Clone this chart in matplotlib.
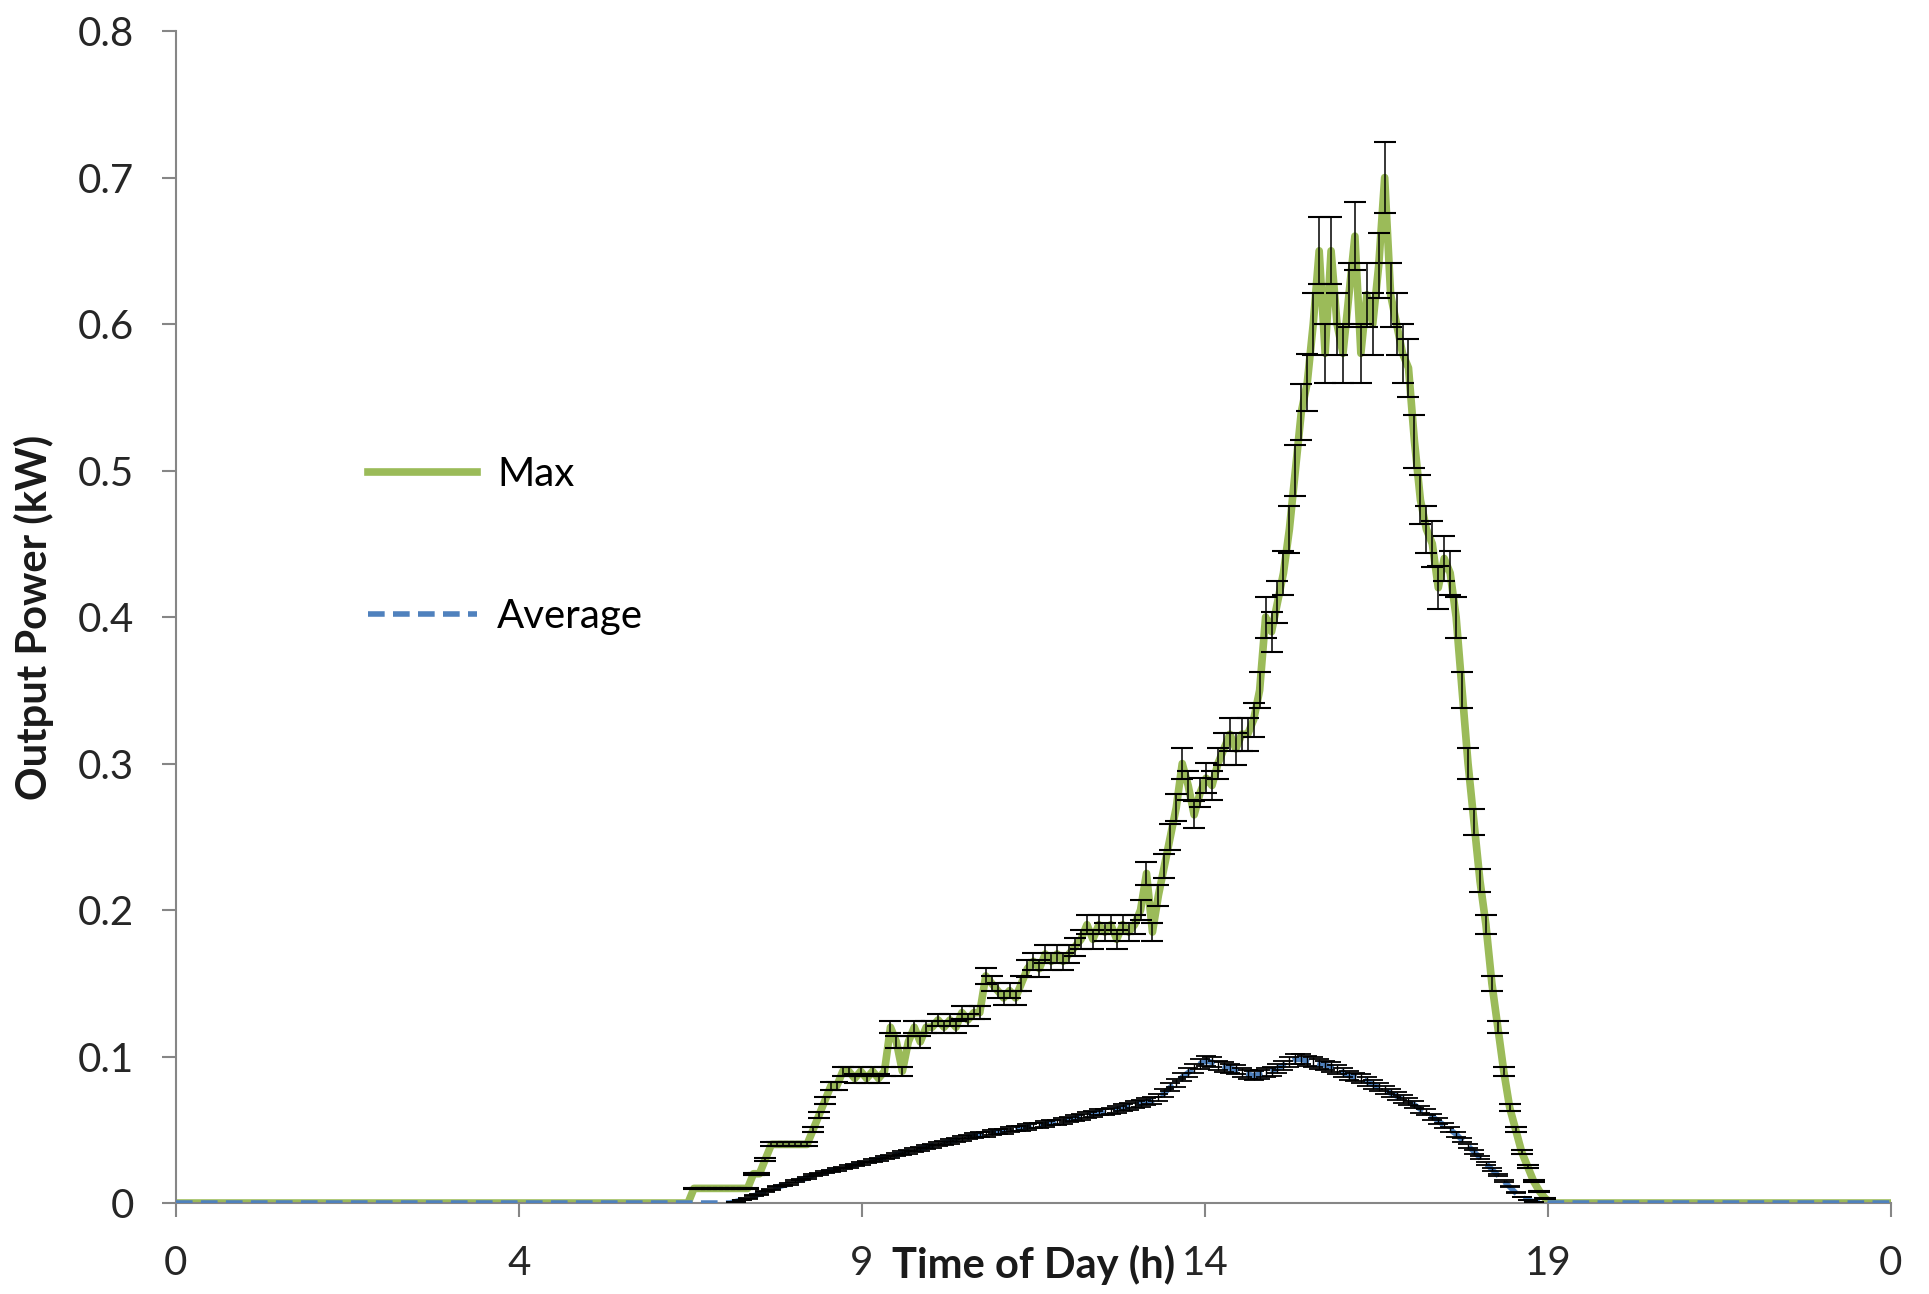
import numpy as np
import matplotlib.pyplot as plt
from matplotlib.ticker import FuncFormatter

plt.rcParams['font.family'] = ['Lato', 'DejaVu Sans']

# 5-minute samples over one day (0 h .. 24 h)
hours = np.arange(289) / 12

# max output power (kW), 07:00 .. 19:55, zero elsewhere
max_kw = ([0] * 84 +
          [0, 0, 0, 0.01, 0.01, 0.01, 0.01, 0.01, 0.01, 0.01, 0.01, 0.01] +
          [0.01, 0.02, 0.02, 0.03, 0.04, 0.04, 0.04, 0.04, 0.04, 0.04, 0.04, 0.05] +
          [0.06, 0.07, 0.08, 0.08, 0.09, 0.09, 0.085, 0.09, 0.085, 0.09, 0.085, 0.09] +
          [0.12, 0.11, 0.09, 0.11, 0.12, 0.11, 0.12, 0.12, 0.125, 0.12, 0.125, 0.12] +
          [0.13, 0.125, 0.13, 0.13, 0.155, 0.15, 0.145, 0.14, 0.145, 0.14, 0.15, 0.16] +
          [0.165, 0.16, 0.17, 0.165, 0.17, 0.165, 0.17, 0.175, 0.18, 0.19, 0.18, 0.19] +
          [0.185, 0.19, 0.18, 0.19, 0.185, 0.19, 0.20, 0.225, 0.185, 0.21, 0.23, 0.25] +
          [0.27, 0.30, 0.285, 0.265, 0.28, 0.29, 0.285, 0.30, 0.31, 0.32, 0.31, 0.32] +
          [0.32, 0.33, 0.35, 0.40, 0.39, 0.41, 0.43, 0.46, 0.50, 0.54, 0.56, 0.60] +
          [0.65, 0.58, 0.65, 0.60, 0.58, 0.62, 0.66, 0.58, 0.62, 0.60, 0.64, 0.70] +
          [0.62, 0.60, 0.58, 0.57, 0.52, 0.48, 0.46, 0.45, 0.42, 0.44, 0.43, 0.40] +
          [0.35, 0.30, 0.26, 0.22, 0.19, 0.15, 0.12, 0.09, 0.065, 0.05, 0.035, 0.025] +
          [0.015, 0.008, 0.003, 0, 0, 0, 0, 0, 0, 0, 0, 0] +
          [0] * 49)

# average output power (kW)
avg_kw = ([0] * 84 +
          [0, 0, 0, 0, 0, 0, 0, 0, 0, 0, 0.001, 0.002] +
          [0.003, 0.005, 0.006, 0.008, 0.009, 0.011, 0.012, 0.013, 0.015, 0.016, 0.017, 0.019] +
          [0.020, 0.021, 0.022, 0.023, 0.024, 0.025, 0.026, 0.027, 0.028, 0.029, 0.030, 0.031] +
          [0.032, 0.033, 0.034, 0.035, 0.036, 0.037, 0.038, 0.039, 0.040, 0.041, 0.042, 0.043] +
          [0.044, 0.045, 0.046, 0.047, 0.047, 0.048, 0.049, 0.049, 0.050, 0.051, 0.051, 0.052] +
          [0.053, 0.053, 0.054, 0.055, 0.055, 0.056, 0.057, 0.058, 0.059, 0.060, 0.061, 0.062] +
          [0.062, 0.063, 0.064, 0.065, 0.066, 0.067, 0.068, 0.069, 0.070, 0.072, 0.075, 0.079] +
          [0.082, 0.086, 0.089, 0.092, 0.095, 0.097, 0.096, 0.094, 0.093, 0.092, 0.091, 0.089] +
          [0.088, 0.087, 0.088, 0.089, 0.090, 0.092, 0.094, 0.096, 0.098, 0.098, 0.097, 0.096] +
          [0.095, 0.094, 0.093, 0.091, 0.089, 0.087, 0.086, 0.085, 0.083, 0.081, 0.079, 0.077] +
          [0.075, 0.073, 0.071, 0.069, 0.067, 0.064, 0.062, 0.059, 0.056, 0.053, 0.050, 0.047] +
          [0.043, 0.039, 0.035, 0.031, 0.027, 0.023, 0.019, 0.015, 0.011, 0.007, 0.004, 0.002] +
          [0.001, 0, 0, 0, 0, 0, 0, 0, 0, 0, 0, 0] +
          [0] * 49)

# error bars are roughly 3.5 % of the value
err_frac = 0.035

tick_pos = [0, 4.8, 9.6, 14.4, 19.2, 24]
tick_lab = ["0", "4", "9", "14", "19", "0"]

max_kw = np.array(max_kw)
avg_kw = np.array(avg_kw)

fig = plt.figure(figsize=(19.29, 12.94), dpi=100)
ax = fig.add_axes([0.0912, 0.0703, 0.889, 0.9057])

green = '#9BBB59'
blue = '#4F81BD'

ln_max, = ax.plot(hours, max_kw, color=green, lw=5.5, label='Max', zorder=2)
m = max_kw > 0
ax.errorbar(hours[m], max_kw[m], yerr=max_kw[m] * err_frac, fmt='none',
            ecolor='black', elinewidth=1.1, capsize=8, capthick=1.5, zorder=3)

ln_avg, = ax.plot(hours, avg_kw, color=blue, lw=4, dashes=(3, 1.5), label='Average', zorder=4)
m = avg_kw > 0
ax.errorbar(hours[m], avg_kw[m], yerr=avg_kw[m] * err_frac, fmt='none',
            ecolor='black', elinewidth=1.0, capsize=7, capthick=1.3, zorder=5)

ax.set_xlim(0, 24)
ax.set_ylim(0, 0.8)
ax.set_xticks(tick_pos)
ax.set_xticklabels(tick_lab)
ax.set_yticks(np.arange(0, 0.81, 0.1))
ax.yaxis.set_major_formatter(FuncFormatter(lambda v, p: "0" if abs(v) < 1e-9 else f"{v:.1f}"))

for s in ['top', 'right']:
    ax.spines[s].set_visible(False)
for s in ['left', 'bottom']:
    ax.spines[s].set_color('#868686')
    ax.spines[s].set_linewidth(1.5)
ax.tick_params(axis='both', colors='#868686', length=10, width=1.5, pad=20,
               labelsize=29, labelcolor='#262626')

ax.set_xlabel("Time of Day (h)", fontsize=30, fontweight='bold', color='#1a1a1a')
ax.xaxis.set_label_coords(0.5, -0.053)
ax.xaxis.label.set_verticalalignment('center')
ax.set_ylabel("Output Power (kW)", fontsize=30, fontweight='bold', color='#1a1a1a')
ax.yaxis.set_label_coords(-0.083, 0.5)
ax.yaxis.label.set_verticalalignment('center')

ax.legend(handles=[ln_max, ln_avg], loc='upper left', bbox_to_anchor=(0.112, 0.637),
          frameon=False, fontsize=29, handlelength=2.7, handletextpad=0.5,
          labelspacing=2.6, borderpad=0, borderaxespad=0)

fig.savefig("out.png", dpi=100)
